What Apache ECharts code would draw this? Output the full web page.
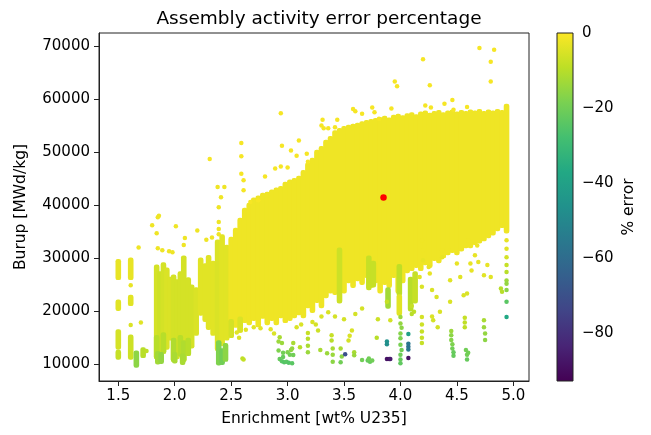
<!DOCTYPE html>
<html>
<head>
<meta charset="utf-8">
<script src="https://cdn.jsdelivr.net/npm/echarts@6/dist/echarts.min.js"></script>
<style>html,body{margin:0;padding:0;background:#fff}#c{width:651px;height:435px}</style>
</head>
<body>
<div id="c"></div>
<script>
// ---------- DATA ----------
const xTicks = [1.5, 2.0, 2.5, 3.0, 3.5, 4.0, 4.5, 5.0];
const yTicks = [10000, 20000, 30000, 40000, 50000, 60000, 70000];
const cbTicks = [0, -20, -40, -60, -80];
const errMin = -92.7, errMax = 0;

// vertical bands of densely packed assemblies: [enrichment, burnupLow, burnupHigh, %error]
const leftBands = [
  [1.50,26400,29300,-3],[1.50,20600,21700,-4],[1.50,13300,16100,-6],[1.50,11400,12200,-8],
  [1.61,26400,29600,-3],[1.61,21500,22600,-4],[1.61,11400,15100,-7],[1.66,9900,12100,-16],[1.72,11700,12700,-10],
  [1.84,11500,28300,-6],[1.87,12500,27000,-7],[1.90,12500,28700,-6],[1.93,13300,27700,-5],[1.96,15000,26000,-5],
  [1.99,11000,26400,-6],[2.02,11500,25500,-6],[2.05,12000,27000,-6],[2.08,11000,30000,-6],[2.12,12100,25900,-6],
  [2.15,13500,24500,-6],[2.19,15900,24000,-5],[2.23,19700,29600,-4],[2.27,18500,28500,-4],[2.30,17000,30100,-4],
  [2.34,15900,29000,-4],[2.38,13000,33000,-5],[2.42,14000,34000,-4],[2.46,15000,32000,-4],
  [1.84,11500,15000,-10],[1.90,12500,15500,-10],[1.99,11000,14500,-11],[2.05,12000,15000,-10],
  [2.08,11000,14000,-11],[2.12,12100,14500,-10],
  [1.85,10500,12000,-13],[1.88,10600,11800,-15],[2.00,10700,11800,-12],[2.07,10400,11500,-12],
  [2.39,10300,14000,-18],[2.42,10400,12500,-20],[2.45,11000,13500,-16]
];
const mainBands = [
  [2.50,15500,33500,-2],[2.54,17400,35200,-2],[2.58,16500,37100,-2],[2.62,18300,39000,-2],[2.66,17900,39900,-2],
  [2.70,18700,40900,-2],[2.74,17500,41300,-2],[2.78,19100,41800,-2],[2.82,17900,42000,-2],[2.86,18700,42400,-2],
  [2.90,17900,42800,-2],[2.94,19200,43100,-2],[2.98,18300,43900,-2],[3.02,18700,44300,-2],[3.06,19200,44600,-2],
  [3.10,19800,45000,-2],[3.14,19200,46100,-2],[3.18,21100,47500,-2],[3.22,20200,48400,-2],[3.26,22100,49900,-2],
  [3.30,21100,50600,-2],[3.34,23000,51800,-2],[3.38,23900,52500,-2],[3.42,23600,53600,-2],[3.46,24900,54000,-2],
  [3.50,23900,54400,-2],[3.54,25800,54600,-2],[3.58,24900,54800,-2],[3.62,26200,55000,-2],[3.66,25500,55300,-2],
  [3.70,26800,55500,-2],[3.74,24900,55700,-2],[3.78,25800,55900,-2],[3.82,23900,56100,-2],[3.86,25500,56300,-2],
  [3.90,24900,56000,-2],[3.94,26800,56500,-2],[3.98,23900,56700,-2],[4.02,25800,56400,-2],[4.06,27700,56800,-2],
  [4.10,28100,57000,-2],[4.14,28700,56600,-2],[4.18,28100,57100,-2],[4.22,29200,57300,-2],[4.26,28700,56900,-2],
  [4.30,30000,57200,-2],[4.34,29600,57400,-2],[4.38,30500,57000,-2],[4.42,31100,57300,-2],[4.46,31500,57500,-2],
  [4.50,31100,57100,-2],[4.54,31800,57400,-2],[4.58,32400,57200,-2],[4.62,32400,57500,-2],[4.66,33000,57300,-2],
  [4.70,33300,57600,-2],[4.74,33700,57200,-2],[4.78,34300,57500,-2],[4.82,34800,57300,-2],[4.86,35600,57600,-2],
  [4.90,36200,57400,-2],[4.94,35200,58600,-2],
  [2.50,15500,18000,-6],[2.58,16500,18500,-5],
  [3.46,22000,31500,-7],[3.72,24500,30000,-8],[3.76,25000,29000,-8],[3.89,21000,24000,-13],
  [3.99,23400,28400,-9],[3.99,19700,22700,-4],[4.09,20500,26000,-10],[4.13,22000,27000,-8]
];

// individual assemblies: [enrichment, burnup, %error]
const outlierPoints = [
  [2.31,48700,-1],[2.59,51700,-1],[2.59,49200,-1],[2.59,45900,-1],[2.61,44700,-1],[2.61,42800,-1],[2.67,40600,-1],
  [2.74,40900,-1],[2.80,45400,-1],[2.89,46900,-1],[2.94,57300,-1],[2.94,47300,-1],[2.95,51200,-1],[3.00,47100,-1],
  [3.03,50300,-1],[3.08,49300,-1],[3.10,52200,-1],[3.17,49700,-1],[3.18,48200,-1],[3.30,55000,-1],[3.31,56100,-1],
  [3.32,54500,-1],[3.36,54500,-1],[3.42,54700,-1],[3.44,56100,-1],[3.58,58100,-1],[3.60,57700,-1],[3.66,57200,-1],
  [3.75,58400,-1],[3.77,57500,-1],[3.81,56300,-1],[3.92,58200,-1],[3.95,63300,-1],[3.97,62400,-1],[4.20,67500,-1],
  [4.22,58800,-1],[4.26,62600,-1],[4.27,58400,-1],[4.39,59100,-1],[4.46,59800,-1],[4.47,58000,-1],[4.59,58500,-1],
  [4.70,69600,-1],[4.80,67000,-1],[4.80,63300,-1],[4.83,69300,-1],
  [1.80,36200,-2],[1.85,37700,-2],[1.86,38000,-2],[2.01,36000,-2],[2.20,35200,-2],[1.84,34700,-2],[1.68,32000,-2],
  [1.85,31900,-2],[1.89,31500,-2],[1.95,31300,-2],[1.98,31100,-2],[2.28,33500,-2],[2.33,33900,-2],[2.39,36800,-2],
  [2.39,35500,-2],[2.39,34500,-2],[2.39,39600,-2],[2.38,43400,-2],[2.44,43400,-2],[2.41,41500,-2],[1.70,17900,-4],
  [1.61,24900,-3],[1.61,17400,-5],[1.75,12500,-9],[2.08,32500,-2],[2.09,33800,-2]
];
const midPoints = [
  [4.19,33400,-2],[4.20,31500,-2],[4.20,29600,-3],[4.25,28350,-3],[4.26,27100,-3],[4.37,31500,-2],[4.37,30200,-3],
  [4.43,31500,-2],[4.44,25850,-4],[4.44,21800,-5],[4.50,29000,-3],[4.53,26450,-4],[4.56,23000,-5],[4.59,23350,-5],
  [4.62,29000,-3],[4.63,27700,-3],[4.66,30550,-3],[4.69,29300,-3],[4.74,26800,-4],[4.77,28700,-3],[4.80,26450,-4],
  [4.60,33400,-2],[4.68,32400,-2],[4.17,26450,-4],[4.19,24600,-5],[4.28,24000,-5],[4.32,22700,-5],[3.91,18300,-6],
  [3.88,21800,-8],[2.55,16000,-4],[2.57,15000,-5],[2.63,16500,-4],[2.70,17000,-4],[2.76,16800,-4],[2.85,16600,-4],
  [2.88,15800,-5],[3.08,17000,-5],[3.12,17500,-5],[3.22,18000,-5],[3.25,17500,-6],[3.30,19000,-5],[3.36,19800,-5],
  [3.42,19000,-6],[3.50,18500,-6],[3.60,19500,-6],[3.66,20500,-6],[3.80,18500,-7]
];
const lowPoints = [
  [2.61,10900,-8],[2.60,11100,-9],[2.93,15100,-12],[2.92,14300,-14],[2.95,14000,-14],[2.92,12600,-18],[2.93,11000,-22],
  [2.95,10600,-24],[2.97,10400,-25],[2.99,10500,-24],[3.01,10300,-25],[3.04,10200,-24],[2.96,12200,-20],[3.00,12300,-18],
  [3.02,11800,-20],[3.05,14000,-12],[3.03,12700,-16],[2.96,11400,-22],[3.04,13000,-15],[3.05,11750,-20],[3.11,13200,-10],
  [3.18,15900,-8],[3.18,14800,-10],[3.18,13500,-12],[3.18,12300,-14],[3.27,16400,-7],[3.29,12700,-12],[3.35,12100,-14],
  [3.39,15500,-8],[3.39,14500,-10],[3.40,13000,-12],[3.40,11800,-14],[3.40,10500,-16],[3.47,13000,-12],[3.48,11500,-16],
  [3.47,10400,-20],[3.51,11900,-70],[3.54,14500,-6],[3.55,15400,-5],[3.57,16400,-5],[3.59,12300,-12],[3.59,11700,-14],
  [3.66,10800,-20],[3.71,10700,-22],[3.73,10500,-22],[3.75,10700,-20],[3.72,11100,-20],[3.79,15000,-10],
  [3.88,14300,-46],[3.88,13800,-47],[3.88,11000,-88],[3.90,11000,-89],[3.91,11000,-86],
  [4.00,18900,-14],[4.00,17700,-15],[4.01,16900,-16],[4.00,15800,-17],[4.00,14900,-18],[4.00,13700,-19],[4.01,12700,-20],
  [4.00,11800,-21],[4.00,10900,-22],[4.00,10200,-23],[4.07,15700,-40],[4.07,13900,-56],[4.07,13300,-58],[4.07,12800,-56],
  [4.07,11200,-88],[4.10,21000,-8],[4.10,19500,-10],[4.12,19900,-9],[4.19,18900,-6],[4.19,17500,-7],[4.19,16200,-8],
  [4.19,15000,-8],[4.19,14000,-8],[4.28,19000,-5],[4.29,18300,-6],[4.33,17000,-6],[4.35,19900,-5],
  [4.45,16300,-14],[4.45,15500,-16],[4.45,14600,-17],[4.46,13800,-18],[4.46,13000,-20],[4.47,12300,-22],[4.47,11600,-22],
  [4.57,18800,-8],[4.57,17900,-9],[4.57,17000,-9],[4.58,12700,-20],[4.59,11800,-20],[4.59,10900,-22],[4.60,12200,-20],
  [4.74,18300,-12],[4.74,17000,-14],[4.75,15800,-15],[4.75,14600,-16],
  [4.94,33400,-3],[4.94,31800,-4],[4.94,30200,-6],[4.94,28700,-8],[4.94,27400,-10],[4.94,25800,-14],[4.94,25200,-15],
  [4.94,24000,-16],[4.94,21800,-24],[4.94,18900,-37],[4.89,24300,-10],[4.90,23700,-10]
];
// highlighted assembly (red)
const highlightPoint = [[3.85, 41450]];

// ---------- CHART ----------
const viridis = ['#440154','#482475','#414487','#355f8d','#2a788e','#21918c','#22a884','#44bf70','#7ad151','#bddf26','#fde725'];
const FONT = 'DejaVu Sans';
const minus = v => String(v).replace('-', '\u2212');

const chart = echarts.init(document.getElementById('c'), null, {renderer: 'canvas'});
const bands = leftBands.concat(mainBands);
const points = outlierPoints.concat(midPoints, lowPoints);

chart.setOption({
  animation: false,
  backgroundColor: '#fff',
  title: {
    text: 'Assembly activity error percentage',
    left: 314, top: 5, textAlign: 'center',
    textStyle: {fontFamily: FONT, fontSize: 18.5, fontWeight: 'normal', color: '#000'}
  },
  grid: [
    {left: 99, top: 33, width: 430, height: 348, show: true, borderColor: '#222', borderWidth: 1, backgroundColor: 'transparent'},
    {left: 557, top: 33, width: 16, height: 348}
  ],
  xAxis: [
    {type: 'value', gridIndex: 0, min: 1.329, max: 5.139,
     name: 'Enrichment [wt% U235]', nameLocation: 'middle', nameGap: 30,
     nameTextStyle: {fontFamily: FONT, fontSize: 15.5, color: '#000'},
     axisLine: {show: true, onZero: false, lineStyle: {color: '#222'}},
     axisTick: {show: true, length: 5, lineStyle: {color: '#222'}, customValues: xTicks},
     axisLabel: {fontFamily: FONT, fontSize: 15, color: '#000', margin: 8, customValues: xTicks,
                 formatter: v => v.toFixed(1)},
     splitLine: {show: false}},
    {type: 'value', gridIndex: 1, min: 0, max: 1, show: false}
  ],
  yAxis: [
    {type: 'value', gridIndex: 0, min: 6860, max: 72440,
     name: 'Burup [MWd/kg]', nameLocation: 'middle', nameGap: 70, nameRotate: 90,
     nameTextStyle: {fontFamily: FONT, fontSize: 15.5, color: '#000'},
     axisLine: {show: true, onZero: false, lineStyle: {color: '#222'}},
     axisTick: {show: true, length: 5, lineStyle: {color: '#222'}, customValues: yTicks},
     axisLabel: {fontFamily: FONT, fontSize: 15, color: '#000', margin: 9, customValues: yTicks,
                 formatter: v => String(Math.round(v))},
     splitLine: {show: false}},
    {type: 'value', gridIndex: 1, min: errMin, max: errMax, position: 'right',
     name: '% error', nameLocation: 'middle', nameGap: 48, nameRotate: 90,
     nameTextStyle: {fontFamily: FONT, fontSize: 15.5, color: '#000'},
     axisLine: {show: false},
     axisTick: {show: true, length: 5, lineStyle: {color: '#222'}, customValues: cbTicks},
     axisLabel: {fontFamily: FONT, fontSize: 15, color: '#000', margin: 9, customValues: cbTicks,
                 formatter: v => minus(v)},
     splitLine: {show: false}}
  ],
  visualMap: [
    {type: 'continuous', show: false, min: errMin, max: errMax, dimension: 3, seriesIndex: 0, inRange: {color: viridis}},
    {type: 'continuous', show: false, min: errMin, max: errMax, dimension: 2, seriesIndex: 1, inRange: {color: viridis}}
  ],
  series: [
    {type: 'custom', xAxisIndex: 0, yAxisIndex: 0, data: bands, clip: true,
     encode: {x: 0, y: [1, 2]},
     renderItem: function (params, api) {
       const x = api.value(0), lo = api.value(1), hi = api.value(2);
       const a = api.coord([x, hi]), b = api.coord([x, lo]);
       const w = 5.6;
       return {type: 'rect',
               shape: {x: a[0] - w / 2, y: a[1] - w / 2, width: w, height: b[1] - a[1] + w, r: 2.2},
               style: {fill: api.visual('color')}};
     }},
    {type: 'scatter', xAxisIndex: 0, yAxisIndex: 0, data: points, symbolSize: 4.5,
     itemStyle: {opacity: 1}},
    {type: 'scatter', xAxisIndex: 0, yAxisIndex: 0, data: highlightPoint, symbolSize: 6.5,
     itemStyle: {color: '#ff0000', opacity: 1}, z: 5},
    {type: 'custom', xAxisIndex: 1, yAxisIndex: 1, data: [[0, errMin, errMax]],
     renderItem: function (params, api) {
       const a = api.coord([0, api.value(2)]), b = api.coord([1, api.value(1)]);
       const stops = viridis.map((c, i) => ({offset: 1 - i / (viridis.length - 1), color: c}));
       return {type: 'rect',
               shape: {x: a[0], y: a[1], width: b[0] - a[0], height: b[1] - a[1]},
               style: {fill: new echarts.graphic.LinearGradient(0, 0, 0, 1, stops.reverse()),
                       stroke: '#222', lineWidth: 1}};
     }}
  ]
});
</script>
</body>
</html>
